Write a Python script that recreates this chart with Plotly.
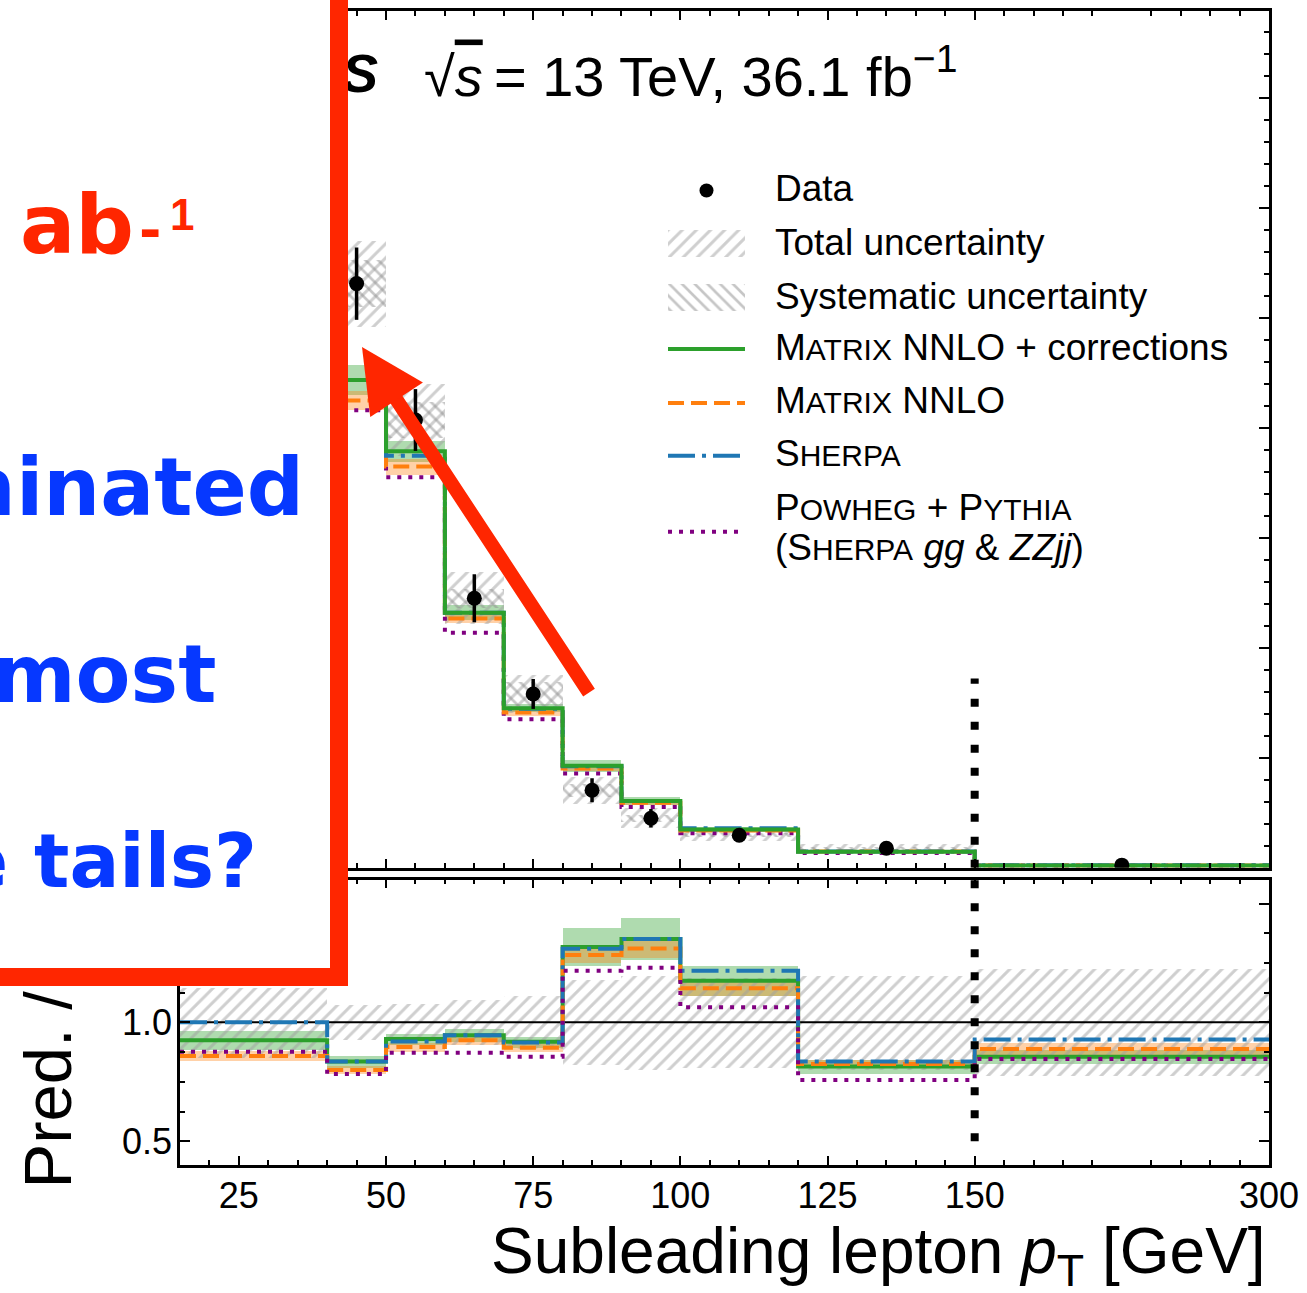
import numpy as np
import plotly.graph_objects as go

# ---------------- data ----------------
bin_edges = [15, 40, 50, 60, 70, 80, 90, 100, 120, 150, 300]          # GeV
data_xsec = [1.125, 1.3275, 1.0175, 0.6125, 0.395, 0.176, 0.1125, 0.074, 0.0445, 0.006]  # fb/GeV
stat_rel = [0.13, 0.062, 0.069, 0.089, 0.086, 0.155, 0.185, 0.18, 0.185, 0.215]
syst_rel = [0.07, 0.04, 0.04, 0.036, 0.069, 0.088, 0.07, 0.06, 0.07, 0.07]

ratio_matrix_corr = [0.925, 0.835, 0.93, 0.946, 0.918, 1.317, 1.351, 1.175, 0.814, 0.855]
ratio_matrix = [0.858, 0.80, 0.896, 0.925, 0.893, 1.283, 1.311, 1.144, 0.825, 0.888]
ratio_sherpa = [1.0, 0.835, 0.92, 0.946, 0.915, 1.31, 1.351, 1.217, 0.835, 0.928]
ratio_powheg = [0.876, 0.783, 0.872, 0.872, 0.855, 1.217, 1.23, 1.064, 0.758, 0.846]
band_matrix_corr = [0.045, 0.03, 0.025, 0.03, 0.025, 0.06, 0.065, 0.055, 0.035, 0.035]
band_matrix = [0.025, 0.02, 0.02, 0.02, 0.02, 0.025, 0.03, 0.028, 0.02, 0.028]

x_tick_values = [25, 50, 75, 100, 125, 150, 300]
ratio_tick_values = [0.5, 1.0, 1.5]
fiducial_break = 150

legend_labels = ["Data", "Total uncertainty", "Systematic uncertainty",
                 "MATRIX NNLO + corrections", "MATRIX NNLO", "SHERPA",
                 "POWHEG + PYTHIA", "(SHERPA gg & ZZjj)"]

# ---------------- page geometry ----------------
W, H = 1307, 1293
ML, MR, MT, MB = 180, 38, 8, 128
PW = W - ML - MR
PH = H - MT - MB


def pxx(xp):
    return (xp - ML) / PW


def pxy(yp):
    return (H - MB - yp) / PH


TOP_DOM = [pxy(867), 1.0]
BOT_DOM = [0.0, pxy(879)]

FONT = "Liberation Sans, Arial, Helvetica, sans-serif"
RED = "#ff2600"
BLUE_TXT = "#0638ff"
C_GREEN = "#2ca02c"
C_ORANGE = "#ff7f0e"
C_BLUE = "#1f77b4"
C_PURPLE = "#800080"
BAND_GREEN = "rgba(44,160,44,0.38)"
BAND_ORANGE = "rgba(255,127,14,0.36)"
HATCH_TOT = "#a0a0a0"
HATCH_SYS = "#8e8e8e"

# broken x axis: linear to 150 GeV, compressed by 3 above
COMPRESS = 3.0


def disp(v):
    return v if v <= fiducial_break else fiducial_break + (v - fiducial_break) / COMPRESS


edges_d = np.array([disp(e) for e in bin_edges])
centers_d = np.array([disp(0.5 * (a + b)) for a, b in zip(bin_edges[:-1], bin_edges[1:])])
widths_d = np.diff(edges_d)

data = np.array(data_xsec)
stat = np.array(stat_rel)
syst = np.array(syst_rel)
tot = np.sqrt(stat ** 2 + syst ** 2)

series = [
    # name, ratio, colour, dash
    ("powheg", np.array(ratio_powheg), C_PURPLE, "4px,7px"),
    ("matrix", np.array(ratio_matrix), C_ORANGE, "16px,7px"),
    ("sherpa", np.array(ratio_sherpa), C_BLUE, "27px,7px,4px,7px"),
    ("matrix_corr", np.array(ratio_matrix_corr), C_GREEN, "solid"),
]
ser = {s[0]: s for s in series}

fig = go.Figure()


def step_y(vals):
    v = list(vals)
    return v + [v[-1]]


def band_bar(base, height, color, xa, ya):
    return go.Bar(x=centers_d, y=height, base=base, width=widths_d, xaxis=xa, yaxis=ya,
                  marker=dict(color=color, line=dict(width=0)), showlegend=False, hoverinfo="skip")


def hatch_bar(x, base, height, width, shape, color, size, xa, ya):
    return go.Bar(x=x, y=height, base=base, width=width, xaxis=xa, yaxis=ya,
                  marker=dict(color="rgba(0,0,0,0)", line=dict(width=0),
                              pattern=dict(shape=shape, fgcolor=color, size=size,
                                           solidity=0.3, fillmode="overlay")),
                  showlegend=False, hoverinfo="skip")


# ---------------- top panel ----------------
pred_corr = data * ser["matrix_corr"][1]
pred_matrix = data * ser["matrix"][1]
fig.add_trace(band_bar(pred_corr * (1 - np.array(band_matrix_corr)), 2 * pred_corr * np.array(band_matrix_corr),
                       BAND_GREEN, "x", "y"))
fig.add_trace(band_bar(pred_matrix * (1 - np.array(band_matrix)), 2 * pred_matrix * np.array(band_matrix),
                       BAND_ORANGE, "x", "y"))
fig.add_trace(hatch_bar(centers_d, data * (1 - tot), 2 * data * tot, widths_d, "/", HATCH_TOT, 10, "x", "y"))
fig.add_trace(hatch_bar(centers_d, data * (1 - syst), 2 * data * syst, widths_d, "\\", HATCH_SYS, 9, "x", "y"))

for key in ["powheg", "matrix", "sherpa", "matrix_corr"]:
    name, r, col, dash = ser[key]
    fig.add_trace(go.Scatter(x=edges_d, y=step_y(data * r), mode="lines", line_shape="hv",
                             line=dict(color=col, width=4, dash=dash), xaxis="x", yaxis="y",
                             showlegend=False, hoverinfo="skip"))

fig.add_trace(go.Scatter(x=centers_d, y=data, mode="markers", xaxis="x", yaxis="y",
                         marker=dict(color="black", size=15),
                         error_y=dict(type="data", array=data * stat, color="black", thickness=3.5, width=0),
                         showlegend=False, hoverinfo="skip"))

fig.add_trace(go.Scatter(x=[disp(fiducial_break)] * 2, y=[0, 0.43], mode="lines", xaxis="x", yaxis="y",
                         line=dict(color="black", width=8, dash="8px,15px"), showlegend=False, hoverinfo="skip"))

# ---------------- ratio panel ----------------
rc = ser["matrix_corr"][1]
rm = ser["matrix"][1]
fig.add_trace(band_bar(rc * (1 - np.array(band_matrix_corr)), 2 * rc * np.array(band_matrix_corr),
                       BAND_GREEN, "x2", "y2"))
fig.add_trace(band_bar(rm * (1 - np.array(band_matrix)), 2 * rm * np.array(band_matrix),
                       BAND_ORANGE, "x2", "y2"))
fig.add_trace(hatch_bar(centers_d, 1 - tot, 2 * tot, widths_d, "/", HATCH_TOT, 10, "x2", "y2"))
fig.add_trace(go.Scatter(x=[edges_d[0], edges_d[-1]], y=[1, 1], mode="lines", xaxis="x2", yaxis="y2",
                         line=dict(color="black", width=2), showlegend=False, hoverinfo="skip"))
for key in ["matrix_corr", "matrix", "sherpa", "powheg"]:
    name, r, col, dash = ser[key]
    fig.add_trace(go.Scatter(x=edges_d, y=step_y(r), mode="lines", line_shape="hv",
                             line=dict(color=col, width=4, dash=dash), xaxis="x2", yaxis="y2",
                             showlegend=False, hoverinfo="skip"))
fig.add_trace(go.Scatter(x=[disp(fiducial_break)] * 2, y=[0.5, 1.6], mode="lines", xaxis="x2", yaxis="y2",
                         line=dict(color="black", width=8, dash="8px,15px"), showlegend=False, hoverinfo="skip"))

# ---------------- legend keys (pixel overlay axes) ----------------
LEG_X0, LEG_X1 = 668, 745
leg_rows = [188, 242, 296, 347, 401, 454, 508, 548]
fig.add_trace(go.Scatter(x=[0.5 * (LEG_X0 + LEG_X1)], y=[leg_rows[0]], mode="markers", xaxis="x3", yaxis="y3",
                         marker=dict(color="black", size=14), showlegend=False, hoverinfo="skip"))
fig.add_trace(hatch_bar([0.5 * (LEG_X0 + LEG_X1)], [leg_rows[1] - 14], [27], [LEG_X1 - LEG_X0], "/",
                        HATCH_TOT, 10, "x3", "y3"))
fig.add_trace(hatch_bar([0.5 * (LEG_X0 + LEG_X1)], [leg_rows[2] - 14], [27], [LEG_X1 - LEG_X0], "\\",
                        HATCH_SYS, 9, "x3", "y3"))
for key, yy in [("matrix_corr", leg_rows[3]), ("matrix", leg_rows[4]), ("sherpa", leg_rows[5]),
                ("powheg", 530)]:
    name, r, col, dash = ser[key]
    fig.add_trace(go.Scatter(x=[LEG_X0, LEG_X1], y=[yy, yy], mode="lines", xaxis="x3", yaxis="y3",
                             line=dict(color=col, width=4, dash=dash), showlegend=False, hoverinfo="skip"))


def sc(word, small=30):
    return word[0] + "<span style='font-size:%dpx'>%s</span>" % (small, word[1:])


leg_text = [
    legend_labels[0], legend_labels[1], legend_labels[2],
    sc("MATRIX") + " NNLO + corrections",
    sc("MATRIX") + " NNLO",
    sc("SHERPA"),
    sc("POWHEG") + " + " + sc("PYTHIA"),
    "(" + sc("SHERPA") + " <i>gg</i> &amp; <i>ZZjj</i>)",
]

annotations = []
for t, yy in zip(leg_text, leg_rows):
    annotations.append(dict(xref="paper", yref="paper", x=pxx(773), y=pxy(yy - 2), xanchor="left",
                            yanchor="middle", text=t, showarrow=False, font=dict(family=FONT, size=37, color="black")))

# ATLAS label
annotations.append(dict(xref="paper", yref="paper", x=pxx(380), y=pxy(70), xanchor="right", yanchor="middle",
                        text="<b><i>ATLAS</i></b>", showarrow=False,
                        font=dict(family=FONT, size=54, color="black")))
annotations.append(dict(xref="paper", yref="paper", x=pxx(422), y=pxy(70), xanchor="left", yanchor="middle",
                        text="\u221a<span style='text-decoration:overline'><i>s</i></span>\u2009= 13 TeV, 36.1 fb<sup>\u22121</sup>",
                        showarrow=False, font=dict(family=FONT, size=56, color="black")))

# axis titles
annotations.append(dict(xref="paper", yref="paper", x=pxx(1268), y=pxy(1255), xanchor="right", yanchor="middle",
                        text="Subleading lepton <i>p</i><sub>T</sub> [GeV]", showarrow=False,
                        font=dict(family=FONT, size=64, color="black")))
annotations.append(dict(xref="paper", yref="paper", x=pxx(47), y=pxy(1009), xanchor="center", yanchor="middle",
                        text="Pred. / Data", textangle=-90, showarrow=False,
                        font=dict(family=FONT, size=67, color="black")))
annotations.append(dict(xref="paper", yref="paper", x=pxx(48), y=pxy(437), xanchor="center", yanchor="middle",
                        text="d\u03c3 / d<i>p</i><sub>T</sub> [fb/GeV]", textangle=-90, showarrow=False,
                        font=dict(family=FONT, size=64, color="black")))

# overlaid slide box
annotations.append(dict(xref="paper", yref="paper", x=pxx(348), y=pxy(986), xanchor="right", yanchor="bottom",
                        text="&nbsp;", showarrow=False, width=612, height=1050, bgcolor="white",
                        bordercolor=RED, borderwidth=18, borderpad=0))
BOXF = "DejaVu Sans, Verdana, sans-serif"
annotations.append(dict(xref="paper", yref="paper", x=pxx(136), y=pxy(222), xanchor="right", yanchor="middle",
                        text="<b>HL-LHC: 3 ab</b>", showarrow=False,
                        font=dict(family=BOXF, size=82, color=RED)))
annotations.append(dict(xref="paper", yref="paper", x=pxx(137), y=pxy(228), xanchor="left", yanchor="middle",
                        text="<b>-</b>", showarrow=False,
                        font=dict(family=BOXF, size=54, color=RED)))
annotations.append(dict(xref="paper", yref="paper", x=pxx(168), y=pxy(212), xanchor="left", yanchor="middle",
                        text="<b>1</b>", showarrow=False,
                        font=dict(family=FONT, size=44, color=RED)))
for t, xr, yc, fs in [("Stat. dominated", 306, 486, 80), ("in most", 218, 673, 80),
                      ("the tails?", 259, 860, 74)]:
    annotations.append(dict(xref="paper", yref="paper", x=pxx(xr), y=pxy(yc), xanchor="right", yanchor="middle",
                            text="<b>%s</b>" % t, showarrow=False, font=dict(family=BOXF, size=fs, color=BLUE_TXT)))
# red arrow
annotations.append(dict(xref="paper", yref="paper", x=pxx(362), y=pxy(345), ax=228, ay=347,
                        text="", showarrow=True, arrowhead=2, arrowsize=0.9, arrowwidth=14,
                        arrowcolor=RED, standoff=0))

# ---------------- axes ----------------
major_d = [disp(v) for v in x_tick_values]
minor_d = [v for v in range(20, 200, 5) if v not in major_d and v != 175]


def frame(**kw):
    d = dict(showline=True, linecolor="black", linewidth=2.5, mirror="allticks", ticks="inside",
             tickcolor="black", tickwidth=2, showgrid=False, zeroline=False,
             tickfont=dict(family=FONT, size=36, color="black"))
    d.update(kw)
    return d


xcommon = dict(range=[edges_d[0], edges_d[-1]], tickmode="array", tickvals=major_d,
               ticktext=[str(v) for v in x_tick_values], ticklen=9,
               minor=dict(tickmode="array", tickvals=minor_d, ticklen=5, tickwidth=2, tickcolor="black",
                          ticks="inside", showgrid=False))

fig.update_layout(
    width=W, height=H,
    margin=dict(l=ML, r=MR, t=MT, b=MB),
    paper_bgcolor="white", plot_bgcolor="white",
    barmode="overlay", bargap=0,
    showlegend=False,
    xaxis=frame(domain=[0, 1], anchor="y", showticklabels=False, **xcommon),
    xaxis2=frame(domain=[0, 1], anchor="y2", showticklabels=True, ticklabelstandoff=-3, **xcommon),
    yaxis=frame(domain=TOP_DOM, anchor="x", range=[0, 1.947], dtick=0.25, tick0=0, ticklen=10,
                minor=dict(dtick=0.05, tick0=0, ticklen=5.5, tickwidth=2, tickcolor="black", ticks="inside",
                           showgrid=False)),
    yaxis2=frame(domain=BOT_DOM, anchor="x2", range=[0.4, 1.6], tickmode="array", tickvals=ratio_tick_values,
                 ticktext=["%.1f" % v for v in ratio_tick_values], ticklen=10, ticklabelstandoff=-2,
                 minor=dict(dtick=0.125, tick0=0.5, ticklen=5.5, tickwidth=2, tickcolor="black",
                            ticks="inside", showgrid=False)),
    xaxis3=dict(overlaying="x", anchor="y3", range=[ML, W - MR], visible=False, showgrid=False, zeroline=False),
    yaxis3=dict(overlaying="y", anchor="x3", range=[867, MT], visible=False, showgrid=False, zeroline=False),
    annotations=annotations,
)

fig.write_html("out.html")
